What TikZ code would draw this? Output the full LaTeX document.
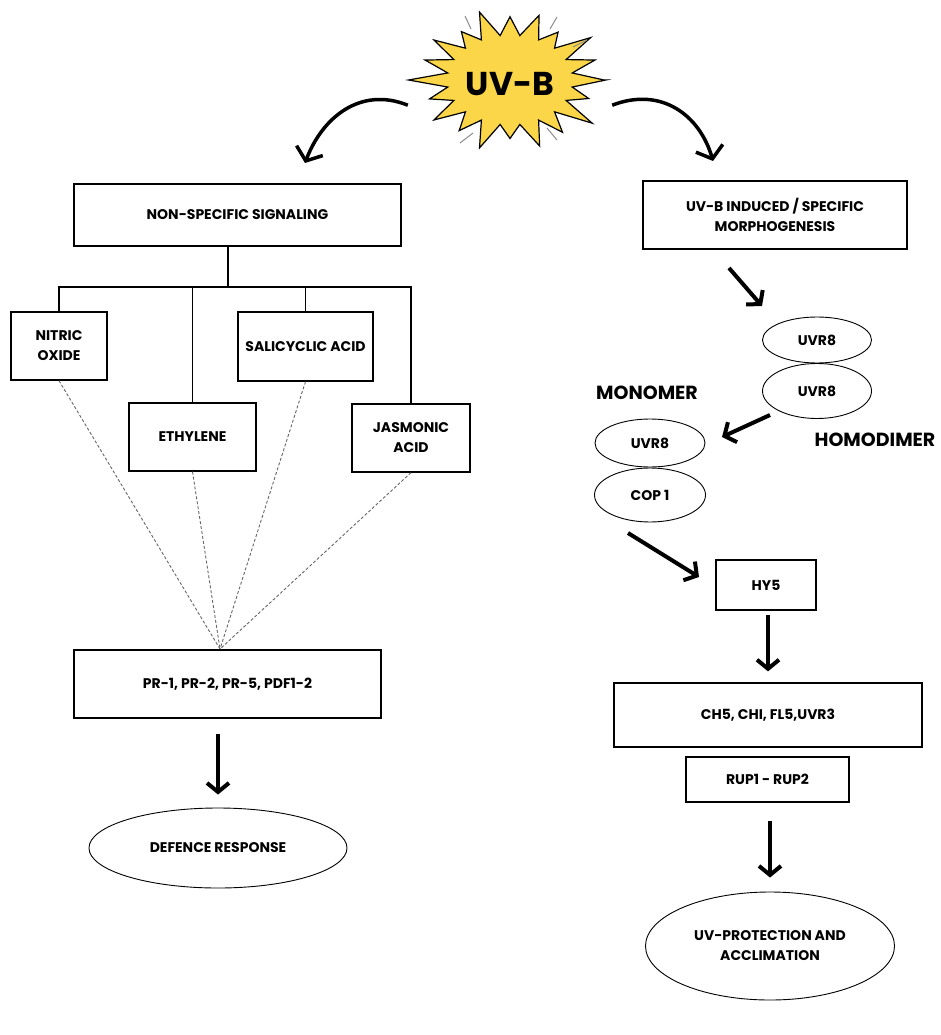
\documentclass[tikz,border=0pt]{standalone}
\usepackage{fontspec}
\setmainfont{Poppins}
\usetikzlibrary{arrows.meta,shapes.geometric}

\definecolor{uvyellow}{RGB}{250,214,72}

\tikzset{
  box/.style={draw, line width=1.3pt, align=center, inner sep=1pt,
    font=\bfseries\fontsize{14}{20}\selectfont},
  oval/.style={draw, ellipse, line width=0.9pt, inner sep=0pt, align=center,
    font=\bfseries\fontsize{14}{20}\selectfont},
  biglabel/.style={font=\bfseries\fontsize{19}{22}\selectfont},
  tree/.style={line width=1.3pt},
  feed/.style={densely dashed, black!60, line width=0.9pt},
  fat/.style={line width=4pt, -{Straight Barb[length=9pt,width=22pt]}},
  curvearrow/.style={line width=3.5pt, -{Straight Barb[length=11pt,width=28pt]}},
}

\begin{document}
\begin{tikzpicture}[x=1pt,y=-1pt]
\useasboundingbox (0,0) rectangle (941,1035);

% the UV-B burst
\begin{scope}[shift={(510,80)}]
  \draw[fill=uvyellow, line width=1.2pt, line join=miter]
    (0:94 and 68)
    \foreach \k/\r in {0/1.02, 1/0.88, 2/1.08, 3/0.95, 4/1.02, 5/0.86, 6/1.05,
      7/0.92, 8/1.0, 9/0.9, 10/1.08, 11/0.95, 12/1.0, 13/0.88, 14/1.05,
      15/0.93, 16/1.0, 17/0.87, 18/1.06, 19/0.95}
    { -- ({\k*18}:{94*\r} and {68*\r}) -- ({\k*18+9}:{63} and {45}) }
    -- cycle;
\end{scope}
\draw[black!45, line width=1pt] (465,16) -- (471,29);
\draw[black!45, line width=1pt] (550,29) -- (557,17);
\draw[black!45, line width=1pt] (573,47) -- (587,40);
\draw[black!45, line width=1pt] (460,143) -- (473,133);
\draw[black!45, line width=1pt] (547,128) -- (557,140);
\node[minimum width=204, minimum height=42, inner sep=0pt,
  font=\bfseries\fontsize{33}{36}\selectfont] (uvb) at (510,84) {UV-B};

% left branch
\coordinate (lt) at (305,163);
\draw[curvearrow] (uvb.south west) .. controls (360,86) and (322,118) .. (lt);

\node[box, minimum width=327, minimum height=62] (nonspec) at (237.5,215) {NON-SPECIFIC SIGNALING};
\node[box, minimum width=96, minimum height=68] (no) at (59,346) {NITRIC\\OXIDE};
\node[box, minimum width=135, minimum height=69] (sa) at (305.5,346.5) {SALICYCLIC ACID};
\node[box, minimum width=127, minimum height=68] (eth) at (192.5,437) {ETHYLENE};
\node[box, minimum width=118, minimum height=68] (ja) at (411,438) {JASMONIC\\ACID};
\node[box, minimum width=307, minimum height=68] (pr) at (227.5,684) {PR-1, PR-2, PR-5, PDF1-2};
\node[oval, minimum width=258, minimum height=80] (def) at (218,848) {DEFENCE RESPONSE};

\coordinate (bus) at (228,287);
\draw[tree] (nonspec.south -| bus) -- (bus);
\draw[tree] (no.north) |- (bus) -| (ja.north);
\draw[tree] (eth.north) -- (eth.north |- bus);
\draw[tree] (sa.north) -- (sa.north |- bus);

\coordinate (meet) at (220,649);
\draw[feed] (no.south) -- (meet);
\draw[feed] (eth.south) -- (meet);
\draw[feed] (sa.south) -- (meet);
\draw[feed] (ja.south) -- (meet);

\draw[fat] ([yshift=-15]pr.south -| def.north) -- ([yshift=13]def.north);

% right branch
\coordinate (rt) at (713,161);
\draw[curvearrow] (uvb.south east) .. controls (662,86) and (700,116) .. (rt);

\node[box, minimum width=264, minimum height=68] (morph) at (775,215) {UV-B INDUCED / SPECIFIC\\MORPHOGENESIS};
\node[oval, minimum width=109, minimum height=46] (uvra) at (817,340) {UVR8};
\node[oval, minimum width=109, minimum height=55] (uvrb) at (817,391) {UVR8};
\node[biglabel] (monolab) at (647,393) {MONOMER};
\node[biglabel] (homolab) at (875,440) {HOMODIMER};
\node[oval, minimum width=110, minimum height=48] (uvrc) at (650,443) {UVR8};
\node[oval, minimum width=111, minimum height=54] (cop) at (650,495) {COP 1};
\node[box, minimum width=100, minimum height=50] (hy5) at (766,585) {HY5};
\node[box, minimum width=308, minimum height=64] (chs) at (768,715) {CH5, CHI, FL5,UVR3};
\node[box, minimum width=163, minimum height=45] (rup) at (767.5,779.5) {RUP1 - RUP2};
\node[oval, minimum width=249, minimum height=108] (prot) at (770,946) {UV-PROTECTION AND\\ACCLIMATION};

\coordinate (m1) at (729,268);
\coordinate (m2) at (762,306);
\draw[fat] (m1) -- (m2);
\coordinate (d1) at (770,415);
\coordinate (d2) at (722,437);
\draw[fat] (d1) -- (d2);
\coordinate (c1) at (628,533);
\coordinate (c2) at (699,577);
\draw[fat] (c1) -- (c2);
\draw[fat] ([yshift=-4]hy5.south -| chs.north) -- ([yshift=11]chs.north);
\draw[fat] ([yshift=-18]rup.south -| prot.north) -- ([yshift=14]prot.north);

\end{tikzpicture}
\end{document}
